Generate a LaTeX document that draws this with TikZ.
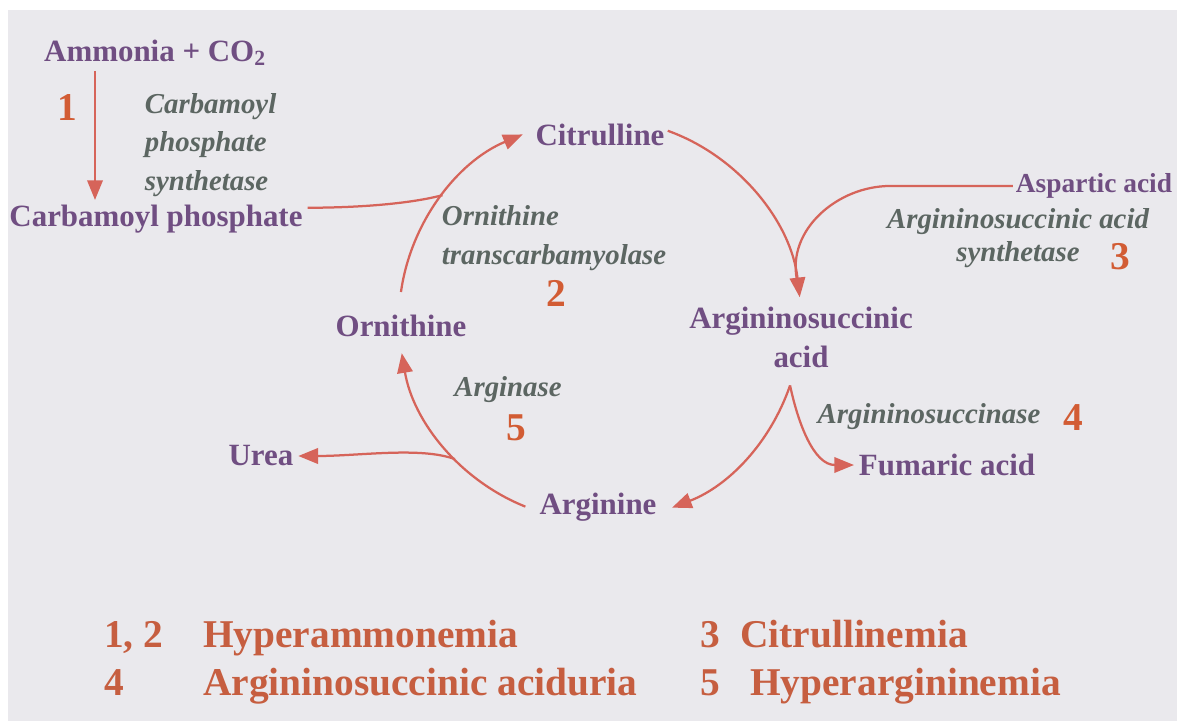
\documentclass[tikz,border=0pt]{standalone}
\usepackage{fontspec}
\setmainfont{Liberation Serif}
\usepackage{xcolor}
\usetikzlibrary{arrows.meta,calc}

\definecolor{bgcol}{RGB}{234,233,237}
\definecolor{cmpdcol}{RGB}{112,78,130}
\definecolor{enzcol}{RGB}{92,102,98}
\definecolor{numcol}{RGB}{210,92,52}
\definecolor{arrcol}{RGB}{214,100,90}
\definecolor{discol}{RGB}{198,94,64}

\begin{document}
\begin{tikzpicture}[
  x=0.025cm, y=0.025cm,
  cmpd/.style={font=\bfseries\fontsize{22}{27.7}\selectfont, text=cmpdcol, align=center},
  enz/.style={font=\bfseries\itshape\fontsize{20.5}{27.5}\selectfont, text=enzcol},
  num/.style={font=\bfseries\fontsize{28}{28}\selectfont, text=numcol},
  dis/.style={font=\bfseries\fontsize{28}{28}\selectfont, text=discol, anchor=base west, inner sep=0pt},
  link/.style={draw=arrcol, line width=1.6pt},
  rx/.style={link, -{Triangle[length=14pt,width=11pt]}},
  cyc/.style={bend left=#1, looseness=0.91}
]

\useasboundingbox (0,0) rectangle (1177,-721);
\fill[bgcol] (8,-10) rectangle (1177,-721);

% cycle centre and radius
\def\cx{600}
\def\cy{-320}
\def\rad{201}
\coordinate (cen) at (\cx,\cy);

% compounds
\node[cmpd] (amm) at (155,-53) {Ammonia + CO\textsubscript{2}};
\node[cmpd] (cp) at (156,-219) {Carbamoyl phosphate};
\node[cmpd] (cit) at (600,-135) {Citrulline};
\node[cmpd] (orn) at (401,-326) {Ornithine};
\node[cmpd, font=\bfseries\fontsize{19.5}{24}\selectfont, inner sep=2pt] (asp) at (1094,-186) {Aspartic acid};
\node[cmpd] (asa) at (801,-337) {Argininosuccinic\\acid};
\node[cmpd] (fum) at (947,-465) {Fumaric acid};
\node[cmpd] (arg) at (598,-507) {Arginine};
\node[cmpd] (urea) at (261,-456) {Urea};

% enzymes
\node[enz, anchor=west, align=left] (cps) at (140,-145) {Carbamoyl\\phosphate\\synthetase};
\node[enz, anchor=west, align=left] (otc) at (437,-238) {Ornithine\\transcarbamyolase};
\node[enz, align=center, font=\bfseries\itshape\fontsize{20.5}{23.5}\selectfont] (ass) at (1018,-238) {Argininosuccinic acid\\synthetase};
\node[enz] (asl) at (929,-417) {Argininosuccinase};
\node[enz] (ars) at (508,-390) {Arginase};

% step numbers
\node[num] (one) at (67,-108) {1};
\node[num] (two) at (556,-293) {2};
\node[num] (three) at (1120,-257) {3};
\node[num] (four) at (1073,-418) {4};
\node[num] (five) at (516,-428) {5};

% points on the cycle
\coordinate (ornOut) at ($(cen)+(172:\rad)$);
\coordinate (cpJoin) at ($(cen)+(141.6:\rad)$);
\coordinate (citIn) at ($(cen)+(112.6:\rad)$);
\coordinate (citOut) at ($(cen)+(70.3:\rad)$);
\coordinate (aspJoin) at ($(cen)+(11.5:\rad)$);
\coordinate (asaIn) at ($(cen)+(6.5:\rad)$);
\coordinate (asaOut) at ($(cen)+(-19:\rad)$);
\coordinate (argIn) at ($(cen)+(-69:\rad)$);
\coordinate (argOut) at ($(cen)+(-111.8:\rad)$);
\coordinate (urJoin) at ($(cen)+(-136.2:\rad)$);
\coordinate (ornIn) at ($(cen)+(-170.5:\rad)$);
\coordinate (ammX) at (95,0);
\coordinate (aspBend) at (890,-186);

% reactions
\draw[rx] (amm.south -| ammX) -- (cp.north -| ammX);
\draw[rx] (ornOut) to[cyc=29.7] (citIn);
\draw[link] ([yshift=8pt]cp.east) to[out=0, in=195, in looseness=0.6] (cpJoin);
\draw[rx] (citOut) to[cyc=31.9] (asaIn);
\draw[link] (asp.west) -- (aspBend) to[out=180, in=101.5] (aspJoin);
\draw[rx] (asaOut) to[cyc=25] (argIn);
\draw[rx] (asaOut) to[out=-78, in=180] (fum.west);
\draw[rx] (argOut) to[cyc=29.35] (ornIn);
\draw[rx] (urJoin) to[out=160, in=0, out looseness=0.6] (urea.east);

% disorders
\node[dis] (d12) at (104,-647) {1, 2};
\node[dis] (dHam) at (203,-647) {Hyperammonemia};
\node[dis] (d3) at (700,-647) {3};
\node[dis] (dCit) at (740,-647) {Citrullinemia};
\node[dis] (d4) at (104,-695) {4};
\node[dis] (dAsa) at (203,-695) {Argininosuccinic aciduria};
\node[dis] (d5) at (700,-695) {5};
\node[dis] (dHarg) at (750,-695) {Hyperargininemia};

\end{tikzpicture}
\end{document}
